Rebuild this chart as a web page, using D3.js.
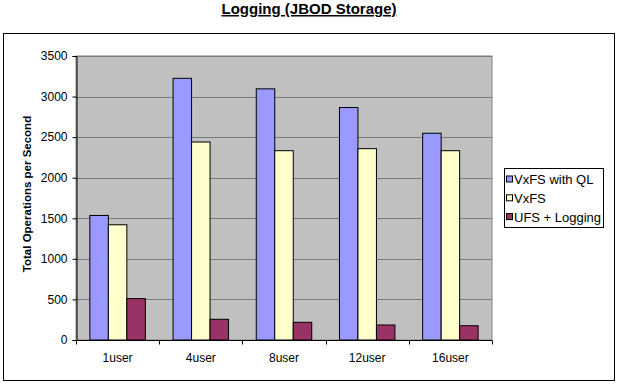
<!DOCTYPE html>
<html>
<head>
<meta charset="utf-8">
<script src="https://cdn.jsdelivr.net/npm/d3@7"></script>
<style>
  body { margin: 0; background: #fff; }
  text { font-family: "Liberation Sans", Arial, sans-serif; }
</style>
</head>
<body>
<svg id="chart" width="621" height="386"></svg>
<script>
const categories = ["1user", "4user", "8user", "12user", "16user"];
const seriesNames = ["VxFS with QL", "VxFS", "UFS + Logging"];
const vxfsQL = [1535, 3225, 3095, 2865, 2548];
const vxfs = [1420, 2440, 2333, 2358, 2333];
const ufsLogging = [510, 255, 218, 185, 176];
const yTicks = [0, 500, 1000, 1500, 2000, 2500, 3000, 3500];
const colors = ["#9999ff", "#ffffcc", "#993366"];

const svg = d3.select("#chart");
const plot = { left: 76, right: 492, top: 56, bottom: 340 };

// title
svg.append("text")
  .attr("x", 309).attr("y", 14)
  .attr("text-anchor", "middle")
  .style("font-size", "15px").style("font-weight", "bold")
  .style("text-decoration", "underline")
  .text("Logging (JBOD Storage)");

// chart frame
svg.append("rect")
  .attr("x", 3.5).attr("y", 33.5).attr("width", 611).attr("height", 347)
  .attr("fill", "#fff").attr("stroke", "#000").attr("stroke-width", 1);

const x = d3.scaleBand().domain(categories).range([plot.left, plot.right]);
const y = d3.scaleLinear().domain([0, 3500]).range([plot.bottom, plot.top]);

svg.append("rect")
  .attr("x", plot.left).attr("y", plot.top)
  .attr("width", plot.right - plot.left).attr("height", plot.bottom - plot.top)
  .attr("fill", "#c0c0c0").attr("stroke", "#808080");

// gridlines
svg.append("g").selectAll("line")
  .data(yTicks.slice(1))
  .join("line")
  .attr("x1", plot.left).attr("x2", plot.right)
  .attr("y1", d => Math.round(y(d)) + 0.5).attr("y2", d => Math.round(y(d)) + 0.5)
  .attr("stroke", "#7a7a7a");

// bars
const series = [vxfsQL, vxfs, ufsLogging];
const barW = x.bandwidth() / 4.5;
const gap = (x.bandwidth() - 3 * barW) / 2;
series.forEach((vals, si) => {
  svg.append("g").selectAll("rect")
    .data(vals)
    .join("rect")
    .attr("x", (d, i) => x(categories[i]) + gap + si * barW)
    .attr("y", d => y(d))
    .attr("width", barW)
    .attr("height", d => y(0) - y(d))
    .attr("fill", colors[si])
    .attr("stroke", "#000").attr("stroke-width", 1);
});

// y axis
const yAxis = svg.append("g")
  .attr("transform", `translate(${plot.left + 0.5},0)`)
  .call(d3.axisLeft(y).tickValues(yTicks).tickFormat(d3.format("d")).tickSize(4).tickPadding(5));
yAxis.selectAll("text").style("font-size", "12px").style("font-family", "Liberation Sans, Arial, sans-serif");
yAxis.selectAll("line,path").attr("stroke", "#000");

// x axis with ticks between categories
const xAxis = svg.append("g").attr("transform", `translate(0,${plot.bottom + 0.5})`);
xAxis.append("line").attr("x1", plot.left).attr("x2", plot.right).attr("stroke", "#000");
xAxis.selectAll("line.tk")
  .data(categories.concat(["end"]))
  .join("line").attr("class", "tk")
  .attr("x1", (d, i) => Math.round(plot.left + i * x.step()) + 0.5)
  .attr("x2", (d, i) => Math.round(plot.left + i * x.step()) + 0.5)
  .attr("y1", 0).attr("y2", 4).attr("stroke", "#000");
xAxis.selectAll("text")
  .data(categories)
  .join("text")
  .attr("x", d => x(d) + x.bandwidth() / 2)
  .attr("y", 21)
  .attr("text-anchor", "middle")
  .style("font-size", "12px")
  .text(d => d);

// y axis title
svg.append("text")
  .attr("transform", `translate(31,${(plot.top + plot.bottom) / 2 - 4}) rotate(-90)`)
  .attr("text-anchor", "middle")
  .style("font-size", "11.5px").style("font-weight", "bold")
  .text("Total Operations per Second");

// legend
const legend = svg.append("g");
legend.append("rect")
  .attr("x", 504.5).attr("y", 168.5).attr("width", 99).attr("height", 59)
  .attr("fill", "#fff").attr("stroke", "#000");
seriesNames.forEach((name, i) => {
  const cy = 179.5 + i * 18.8;
  legend.append("rect")
    .attr("x", 506.5).attr("y", cy - 3.5).attr("width", 6).attr("height", 6)
    .attr("fill", colors[i]).attr("stroke", "#000");
  legend.append("text")
    .attr("x", 514).attr("y", cy + 4.5)
    .style("font-size", "13px")
    .text(name);
});
</script>
</body>
</html>
